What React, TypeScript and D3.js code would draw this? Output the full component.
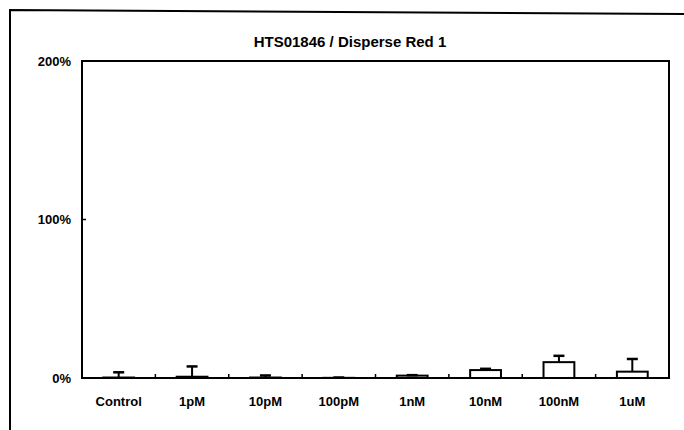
import React from "react";
import * as d3 from "d3";

const title = "HTS01846 / Disperse Red 1";
const categories = ["Control", "1pM", "10pM", "100pM", "1nM", "10nM", "100nM", "1uM"];
const means = [0.3, 0.8, 0.3, 0.1, 1.5, 5, 10, 4];
const errors = [3.3, 6.5, 1.3, 0.2, 0.3, 0.8, 4, 8];
const yTicks = [0, 100, 200];

const W = 684;
const H = 430;
const plot = { left: 82, right: 669, top: 61, bottom: 378 };
const font = "'Liberation Sans', Arial, sans-serif";

export default function App() {
  const x = d3.scaleBand<string>().domain(categories).range([plot.left, plot.right]).paddingInner(0).paddingOuter(0);
  const y = d3.scaleLinear().domain([0, 200]).range([plot.bottom, plot.top]);
  const bw = x.bandwidth() * 0.42;
  const cap = 11;
  const boundaries = categories.slice(1).map((c) => x(c) as number);

  return (
    <div style={{ position: "absolute", left: 0, top: 0 }}>
      <svg width={W} height={H} style={{ display: "block", background: "#fff" }}>
        <rect x={0} y={0} width={W} height={H} fill="#fff" />
        {/* outer frame */}
        <path d={`M10,${H} L10,10 L${W},14`} fill="none" stroke="#000" strokeWidth={2} />
        <text x={350} y={47} textAnchor="middle" fontFamily={font} fontSize={15} fontWeight="bold">
          {title}
        </text>
        {/* bars */}
        {categories.map((c, i) => {
          const cx = (x(c) as number) + x.bandwidth() / 2;
          const top = y(means[i]);
          const et = y(means[i] + errors[i]);
          return (
            <g key={c}>
              <rect x={cx - bw / 2} y={top} width={bw} height={plot.bottom - top} fill="#fff" stroke="#000" strokeWidth={2} />
              <line x1={cx} x2={cx} y1={top} y2={et} stroke="#000" strokeWidth={2} />
              <line x1={cx - cap / 2} x2={cx + cap / 2} y1={et} y2={et} stroke="#000" strokeWidth={2.5} />
            </g>
          );
        })}
        {/* plot frame */}
        <rect x={plot.left} y={plot.top} width={plot.right - plot.left} height={plot.bottom - plot.top} fill="none" stroke="#000" strokeWidth={2} />
        {/* x ticks inside */}
        {boundaries.map((bx, i) => (
          <line key={i} x1={bx} x2={bx} y1={plot.bottom} y2={plot.bottom - 4} stroke="#000" strokeWidth={1.5} />
        ))}
        {/* y ticks */}
        {yTicks.map((t) => (
          <g key={t}>
            <line x1={plot.left} x2={plot.left + 4} y1={y(t)} y2={y(t)} stroke="#000" strokeWidth={1.5} />
            <text x={71} y={y(t)} dy="0.35em" textAnchor="end" fontFamily={font} fontSize={13} fontWeight="bold">
              {t}%
            </text>
          </g>
        ))}
        {/* x labels */}
        {categories.map((c) => (
          <text key={c} x={(x(c) as number) + x.bandwidth() / 2} y={406} textAnchor="middle" fontFamily={font} fontSize={13} fontWeight="bold">
            {c}
          </text>
        ))}
      </svg>
    </div>
  );
}
